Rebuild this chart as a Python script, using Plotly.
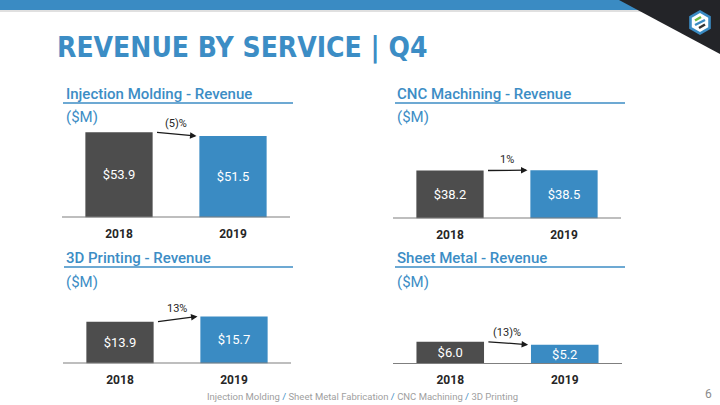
import math
import plotly.graph_objects as go

# ---------------- data ----------------
years = ["2018", "2019"]
services = ["Injection Molding", "CNC Machining", "3D Printing", "Sheet Metal"]
rev_2018 = [53.9, 38.2, 13.9, 6.0]
rev_2019 = [51.5, 38.5, 15.7, 5.2]
growth_labels = ["(5)%", "1%", "13%", "(13)%"]
footer_items = ["Injection Molding", "Sheet Metal Fabrication", "CNC Machining", "3D Printing"]
page_number = "6"
main_title = "REVENUE BY SERVICE | Q4"

# ---------------- style ----------------
W, H = 720, 405
BLUE = "#3A8BC3"
DARK = "#4D4D4D"
TITLE_BLUE = "#3C8DC5"
TEXT_DARK = "#262626"
FONT = "Roboto"


def fx(px):
    return px / W


def fy(py):
    return 1 - py / H


# panel geometry in pixels: axis left/right, plot top, baseline, y max
panels = [
    dict(x0=62, x1=290, top=120, base=217.5, ymax=61.6, tx=64, ty=94, ul=(63, 293, 103), uy=117.5),
    dict(x0=393, x1=621, top=120, base=218.5, ymax=78.4, tx=395, ty=94, ul=(395, 625, 103), uy=117.5),
    dict(x0=63, x1=291, top=290, base=363.5, ymax=24.5, tx=64, ty=258, ul=(64, 293, 267), uy=281.5),
    dict(x0=393, x1=622, top=290, base=364, ymax=19.9, tx=395, ty=258, ul=(395, 625, 267), uy=281.5),
]

fig = go.Figure()
shapes = []
annotations = []
layout_axes = {}

for i, (svc, a, b, g, p) in enumerate(zip(services, rev_2018, rev_2019, growth_labels, panels), start=1):
    sfx = "" if i == 1 else str(i)
    xa = f"x{sfx}"
    ya = f"y{sfx}"
    fig.add_trace(go.Bar(
        x=years, y=[a, b],
        marker=dict(color=[DARK, BLUE], line=dict(width=0)),
        width=0.59,
        texttemplate="$%{y:.1f}",
        textposition="inside",
        insidetextanchor="middle",
        constraintext="none",
        textangle=0,
        textfont=dict(color="white", size=13, family=FONT),
        xaxis=xa, yaxis=ya,
        showlegend=False,
        hoverinfo="skip",
    ))
    layout_axes[f"xaxis{sfx}"] = dict(
        domain=[fx(p["x0"]), fx(p["x1"])], anchor=ya, type="category",
        range=[-0.5, 1.5], showgrid=False, zeroline=False, showline=False,
        ticks="", tickfont=dict(family=FONT, size=12, color=TEXT_DARK, weight="bold"),
        ticklabelstandoff=7, fixedrange=True,
    )
    layout_axes[f"yaxis{sfx}"] = dict(
        domain=[fy(p["base"]), fy(p["top"])], anchor=xa, range=[0, p["ymax"]],
        visible=False, fixedrange=True,
    )
    # baseline
    shapes.append(dict(type="line", xref=f"{xa} domain", yref=ya, x0=0, x1=1, y0=0, y1=0,
                       line=dict(color="#7F7F7F", width=2)))
    # panel title & underline & unit
    annotations.append(dict(xref="paper", yref="paper", x=fx(p["tx"]), y=fy(p["ty"]),
                            xanchor="left", yanchor="middle", showarrow=False,
                            text=f"{svc} - Revenue",
                            font=dict(family=FONT, size=15, color=TITLE_BLUE, weight=500)))
    shapes.append(dict(type="line", xref="paper", yref="paper",
                       x0=fx(p["ul"][0]), x1=fx(p["ul"][1]), y0=fy(p["ul"][2]), y1=fy(p["ul"][2]),
                       line=dict(color=TITLE_BLUE, width=1.5)))
    annotations.append(dict(xref="paper", yref="paper", x=fx(p["tx"]), y=fy(p["uy"]),
                            xanchor="left", yanchor="middle", showarrow=False,
                            text="($M)", font=dict(family=FONT, size=15, color=TITLE_BLUE)))
    # growth arrow
    annotations.append(dict(xref=xa, yref=ya, axref=xa, ayref=ya,
                            x=0.68, y=b, ax=0.32, ay=a, text="", showarrow=True,
                            arrowhead=2, arrowsize=1, arrowwidth=1.3, arrowcolor="#1A1A1A",
                            standoff=0, startstandoff=0))
    annotations.append(dict(xref=xa, yref=ya, x=0.5, y=(a + b) / 2, yshift=11,
                            text=g, showarrow=False,
                            font=dict(family=FONT, size=11, color=TEXT_DARK)))

# header band, shadow, dark corner
shapes.append(dict(type="rect", xref="paper", yref="paper", x0=0, x1=1, y0=fy(12), y1=fy(10),
                   fillcolor="rgba(0,0,0,0.12)", line=dict(width=0), layer="below"))
shapes.append(dict(type="rect", xref="paper", yref="paper", x0=0, x1=1, y0=fy(10), y1=1,
                   fillcolor=BLUE, line=dict(width=0)))
shapes.append(dict(type="path", xref="paper", yref="paper",
                   path=f"M {fx(619)},{fy(0)} L {fx(720)},{fy(0)} L {fx(720)},{fy(54)} Z",
                   fillcolor="#232428", line=dict(width=0)))


# logo hexagon
def hexpath(cx, cy, r):
    pts = []
    for k in range(6):
        ang = math.radians(90 + 60 * k)
        pts.append((cx + r * math.cos(ang), cy - r * math.sin(ang)))
    return "M " + " L ".join(f"{fx(x)},{fy(y)}" for x, y in pts) + " Z"


LCX, LCY = 700, 22.5
shapes.append(dict(type="path", xref="paper", yref="paper", path=hexpath(LCX, LCY, 12.5),
                   fillcolor=BLUE, line=dict(width=0)))
shapes.append(dict(type="path", xref="paper", yref="paper", path=hexpath(LCX, LCY, 9.5),
                   fillcolor="white", line=dict(width=0)))
shapes.append(dict(type="line", xref="paper", yref="paper",
                   x0=fx(LCX - 5), y0=fy(LCY - 2), x1=fx(LCX + 1), y1=fy(LCY - 5.5),
                   line=dict(color="#6DBE45", width=2.5)))
shapes.append(dict(type="line", xref="paper", yref="paper",
                   x0=fx(LCX - 5), y0=fy(LCY + 2.5), x1=fx(LCX + 5), y1=fy(LCY - 2.5),
                   line=dict(color=BLUE, width=2.5)))
shapes.append(dict(type="line", xref="paper", yref="paper",
                   x0=fx(LCX - 1), y0=fy(LCY + 5.5), x1=fx(LCX + 5), y1=fy(LCY + 2),
                   line=dict(color="#333333", width=2.5)))

# main title
annotations.append(dict(xref="paper", yref="paper", x=fx(55), y=fy(47.5), xanchor="left", yanchor="middle",
                        showarrow=False, text=main_title,
                        font=dict(family="DejaVu Sans Condensed, DejaVu Sans", size=28,
                                  color=TITLE_BLUE, weight="bold")))

# footer
sep = f' <span style="color:{BLUE}">/</span> '
annotations.append(dict(xref="paper", yref="paper", x=fx(205), y=fy(396), xanchor="left", yanchor="middle",
                        showarrow=False, text=sep.join(footer_items),
                        font=dict(family=FONT, size=9.5, color="#A0A0A0")))
annotations.append(dict(xref="paper", yref="paper", x=fx(714), y=fy(394), xanchor="right", yanchor="middle",
                        showarrow=False, text=page_number,
                        font=dict(family=FONT, size=12, color="#8C8C8C")))

fig.update_layout(
    width=W, height=H,
    margin=dict(l=0, r=0, t=0, b=0),
    paper_bgcolor="white", plot_bgcolor="rgba(0,0,0,0)",
    shapes=shapes, annotations=annotations,
    bargap=0.2,
    **layout_axes,
)

fig.write_html("out.html", config={"displayModeBar": False},
               post_script="document.body.style.margin='0';")
